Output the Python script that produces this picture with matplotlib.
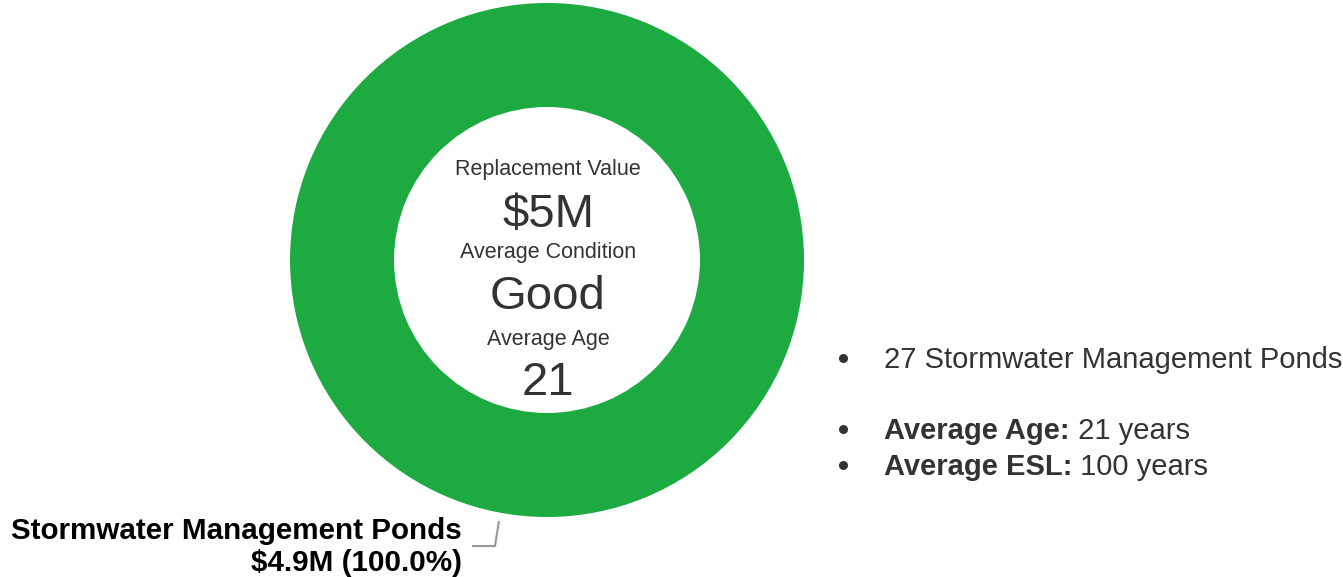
import matplotlib
matplotlib.use("Agg")
import matplotlib.pyplot as plt

plt.rcParams['font.family'] = ['Liberation Sans', 'DejaVu Sans']

# data
categories = ["Stormwater Management Ponds"]
values = [4.9]          # $M
shares = [100.0]        # %
center_labels = ["Replacement Value", "Average Condition", "Average Age"]
center_values = [r"\$5M", "Good", "21"]
pond_count = 27
avg_age = 21
avg_esl = 100

green = '#1CAA41'
txt = '#333333'

fig = plt.figure(figsize=(13.43, 5.77), dpi=100)
ax = fig.add_axes([0, 0, 1, 1])

# donut, in pixel coordinates
ax.pie(values, radius=257, center=(547, 260), colors=[green], startangle=90,
       counterclock=False, wedgeprops=dict(width=104, linewidth=0))
ax.set_xlim(0, 1343)
ax.set_ylim(577, 0)
ax.set_aspect('equal')
ax.axis('off')

# centre block
ax.text(548, 175, center_labels[0], ha='center', va='baseline', fontsize=15.5, color=txt)
ax.text(548, 227, center_values[0], ha='center', va='baseline', fontsize=34, color=txt)
ax.text(548, 258, center_labels[1], ha='center', va='baseline', fontsize=15.5, color=txt)
ax.text(548, 309, center_values[1], ha='center', va='baseline', fontsize=34, color=txt)
ax.text(548, 345, center_labels[2], ha='center', va='baseline', fontsize=15.5, color=txt)
ax.text(548, 395, center_values[2], ha='center', va='baseline', fontsize=34, color=txt)

# slice label + leader
ax.plot([499, 495, 472], [521, 546, 546], color='#999999', lw=1.5, solid_capstyle='butt')
ax.text(462, 539, categories[0], ha='right', va='baseline', fontsize=21.3, fontweight='bold', color='black')
ax.text(462, 571, r"\$%.1fM (%.1f%%)" % (values[0], shares[0]), ha='right', va='baseline',
        fontsize=21.3, fontweight='bold', color='black')

# bullet list
ax.plot([843, 843, 843], [358, 429, 465], 'o', color=txt, markersize=6.5, markeredgewidth=0)
ax.text(884, 368, "%d Stormwater Management Ponds" % pond_count, va='baseline', fontsize=21, color=txt)
b1 = ax.text(884, 439, "Average Age:", va='baseline', fontsize=21, fontweight='bold', color=txt)
ax.annotate(" %d years" % avg_age, xy=(1, 0), xycoords=b1, va='bottom', fontsize=21, color=txt)
b2 = ax.text(884, 475, "Average ESL:", va='baseline', fontsize=21, fontweight='bold', color=txt)
ax.annotate(" %d years" % avg_esl, xy=(1, 0), xycoords=b2, va='bottom', fontsize=21, color=txt)

fig.savefig('out.png', dpi=100)
